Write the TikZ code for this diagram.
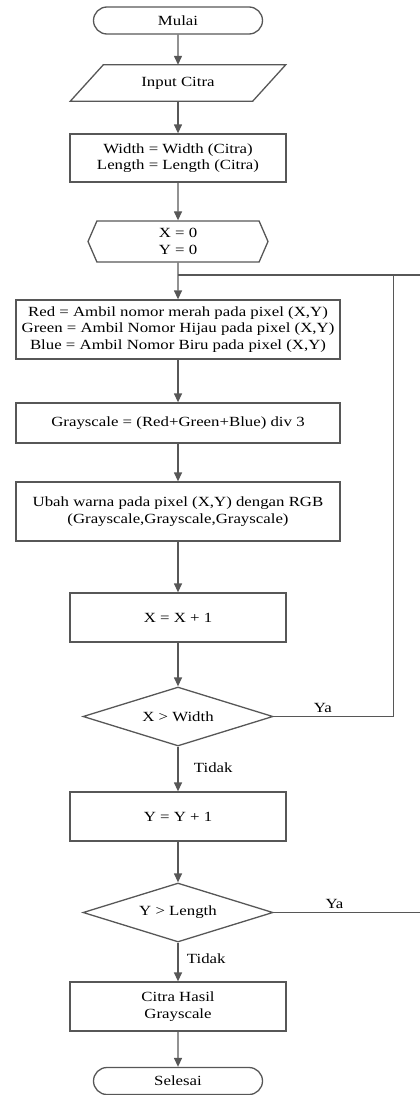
\documentclass[tikz,border=0pt]{standalone}
\usepackage{fontspec}
\setmainfont{Liberation Serif}[FakeStretch=1.2]
\usetikzlibrary{shapes.misc,shapes.symbols,shapes.geometric,arrows.meta}

\tikzset{
  garis/.style={draw=black!66, line width=1.3pt},
  proses/.style={garis, rectangle, align=center, inner sep=0pt},
  terminal/.style={garis, rounded rectangle, minimum width=169pt, minimum height=27pt, inner sep=0pt},
  masukan/.style={rectangle, minimum width=215pt, minimum height=36pt, inner sep=0pt},
  persiapan/.style={garis, signal, signal to=west and east, signal pointer angle=133,
    minimum width=180pt, minimum height=41pt, inner sep=0pt, align=center},
  keputusan/.style={garis, diamond, aspect=3.2, minimum width=190pt, minimum height=59pt, inner sep=0pt},
  panah/.style={garis, -{Triangle[length=9pt,width=8pt]}},
  alur/.style={garis}
}

\begin{document}
\begin{tikzpicture}[x=1pt,y=-1pt,font=\fontsize{14}{16.6}\selectfont]

\clip (0,0) rectangle (420,1095);

\node[terminal] (mulai) at (178,20.5) {Mulai};
\node[masukan] (input) at (178,83) {Input Citra};
\draw[garis] (input.south west) -- ([xshift=-33pt]input.south east)
  -- (input.north east) -- ([xshift=33pt]input.north west) -- cycle;
\node[proses, minimum width=216pt, minimum height=48pt] (ukuran) at (178,158) {Width = Width (Citra)\\Length = Length (Citra)};
\node[persiapan] (awal) at (178,241.5) {X = 0\\Y = 0};
\coordinate (ulang) at (178,275);
\node[proses, minimum width=324pt, minimum height=59pt] (ambil) at (178,329.5) {Red = Ambil nomor merah pada pixel (X,Y)\\Green = Ambil Nomor Hijau pada pixel (X,Y)\\Blue = Ambil Nomor Biru pada pixel (X,Y)};
\node[proses, minimum width=324pt, minimum height=40pt] (gray) at (178,423) {Grayscale = (Red+Green+Blue) div 3};
\node[proses, minimum width=324pt, minimum height=59pt] (ubah) at (178,511.5) {Ubah warna pada pixel (X,Y) dengan RGB\\(Grayscale,Grayscale,Grayscale)};
\node[proses, minimum width=216pt, minimum height=49pt] (tambahx) at (178,617.5) {X = X + 1};
\node[keputusan] (cekx) at (178,716.5) {X > Width};
\node[proses, minimum width=216pt, minimum height=49pt] (tambahy) at (178,816.5) {Y = Y + 1};
\node[keputusan] (ceky) at (178,912.5) {Y > Length};
\node[proses, minimum width=216pt, minimum height=49pt] (hasil) at (178,1006.5) {Citra Hasil\\Grayscale};
\node[terminal] (selesai) at (178,1081) {Selesai};

\draw[panah] (mulai) -- (input);
\draw[panah] (input) -- (ukuran);
\draw[panah] (ukuran) -- (awal);
\draw[panah] (awal) -- (ambil);
\draw[panah] (ambil) -- (gray);
\draw[panah] (gray) -- (ubah);
\draw[panah] (ubah) -- (tambahx);
\draw[panah] (tambahx) -- (cekx);
\draw[panah] (cekx) -- node[right=12pt, pos=0.48] {Tidak} (tambahy);
\draw[panah] (tambahy) -- (ceky);
\draw[panah] (ceky) -- node[right=5pt, pos=0.42] {Tidak} (hasil);
\draw[panah] (hasil) -- (selesai);
\draw[alur] (cekx.east) -- node[above, pos=0.41] {Ya} ++(120,0) |- (ulang);
\draw[alur] (ceky.east) -- node[above, pos=0.38] {Ya} ++(160,0) |- (ulang);

\end{tikzpicture}
\end{document}
